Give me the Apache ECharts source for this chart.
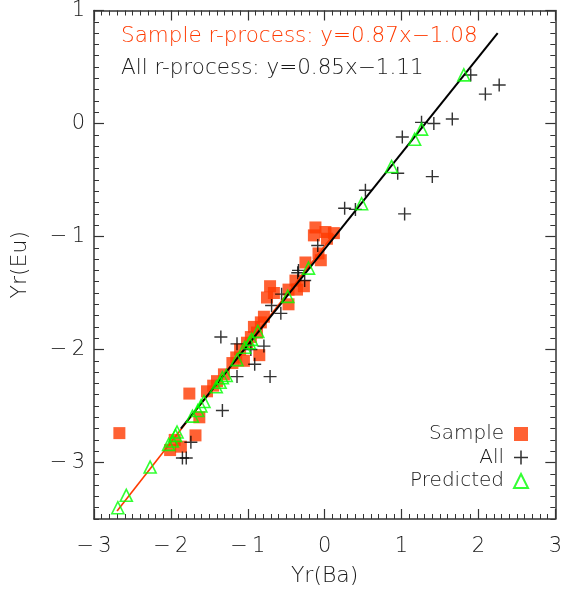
<!DOCTYPE html>
<html><head><meta charset="utf-8">
<script src="https://cdn.jsdelivr.net/npm/echarts@6/dist/echarts.min.js"></script>
<style>html,body{margin:0;padding:0;background:#fff}#c{width:565px;height:592px}</style>
</head><body><div id="c"></div>
<script>
// Sample r-process stars (red squares)
const sampleX = [-2.67,-1.76,-1.53,-1.63,-1.68,-1.87,-2.01,-1.40,-1.31,-1.15,-1.05,-0.85,-1.01,-0.96,-0.92,-0.83,-0.79,-0.75,-0.71,-0.47,-0.36,-0.38,-0.27,-0.25,-0.08,-0.05,-0.12,-0.14,0.01,0.12,0.03,-0.47,-1.10,-1.20,-0.88,-0.66,-1.45,-1.95];
const sampleY = [-2.74,-2.39,-2.37,-2.60,-2.76,-2.86,-2.89,-2.28,-2.22,-2.07,-2.10,-2.05,-1.94,-1.89,-1.80,-1.76,-1.71,-1.54,-1.44,-1.60,-1.47,-1.39,-1.44,-1.23,-1.15,-1.21,-0.92,-0.99,-0.96,-0.97,-1.02,-1.47,-2.00,-2.12,-1.85,-1.50,-2.32,-2.80];
// All r-process stars (plus)
const allX = [1.90,2.27,2.09,1.66,1.42,1.26,1.01,0.95,1.40,0.53,0.26,0.40,1.04,-0.09,-0.35,-0.26,-0.69,-0.56,-0.57,-1.35,-1.14,-0.79,-0.96,-0.91,-0.71,-1.14,-1.33,-1.74,-1.85,-1.80,-0.34];
const allY = [0.43,0.34,0.26,0.04,0.00,0.01,-0.12,-0.44,-0.47,-0.59,-0.75,-0.76,-0.80,-1.08,-1.32,-1.39,-1.61,-1.51,-1.68,-1.89,-1.95,-1.97,-2.00,-2.13,-2.24,-2.24,-2.54,-2.82,-2.96,-2.96,-1.30];
// Predicted (green triangles)
const predX = [1.81,1.26,1.17,0.87,0.48,-0.21,-0.48,-0.87,-0.95,-0.98,-1.04,-1.14,-1.28,-1.33,-1.36,-1.41,-1.57,-1.61,-1.65,-1.72,-1.92,-1.94,-1.98,-2.03,-2.27,-2.58,-2.69];
const predY = [0.43,-0.05,-0.14,-0.38,-0.71,-1.28,-1.53,-1.84,-1.91,-1.94,-1.98,-2.09,-2.23,-2.25,-2.29,-2.33,-2.46,-2.50,-2.54,-2.59,-2.73,-2.76,-2.81,-2.84,-3.04,-3.29,-3.40];
// Fit line endpoints
const sampleFitX = [-2.70, 0.12];
const sampleFitY = [-3.43, -0.98];
const allFitX = [-1.87, 2.25];
const allFitY = [-2.70, 0.80];
const xTicks = [-3,-2,-1,0,1,2,3];
const yTicks = [-3,-2,-1,0,1];

const zip = (a,b) => a.map((v,i)=>[v,b[i]]);
const FONT = 'DejaVu Sans';
const FW = 200;
const RED = '#ff3a00';
const AX = '#333';
const TXT = '#1a1a1a';
const fmt = v => v < 0 ? '\u2212\u2009' + Math.abs(v) : String(v);
const PLUS = 'path://M0,4.45H10V5.55H0Z M4.45,0H5.55V10H4.45Z';

const chart = echarts.init(document.getElementById('c'));
const baseX = {type:'value', min:-3, max:3, interval:1, gridIndex:0,
  axisLine:{show:true, onZero:false, lineStyle:{color:AX, width:1.5}},
  splitLine:{show:false},
  axisTick:{inside:true, length:10, lineStyle:{color:AX, width:1.2}},
  minorTick:{show:true, splitNumber:10, length:5, lineStyle:{color:AX, width:1}},
};
const minorY = pos => ({type:'value', min:-3.5, max:1, interval:0.1, position:pos,
  axisLine:{show:true, onZero:false, lineStyle:{color:AX, width:1.5}},
  splitLine:{show:false}, axisLabel:{show:false},
  axisTick:{inside:true, length:5, lineStyle:{color:AX, width:1}}});
const majorY = (pos, lab) => ({type:'value', min:-3.5, max:1, position:pos,
  axisLine:{show:false, onZero:false}, splitLine:{show:false},
  axisTick:{show:true, inside:true, length:10, customValues:yTicks, lineStyle:{color:AX, width:1.2}},
  axisLabel:{show:lab, customValues:yTicks, formatter:fmt, fontFamily:FONT, fontWeight:FW, fontSize:21, color:TXT, margin:9},
  name: lab ? 'Yr(Eu)' : '', nameLocation:'middle', nameGap:63,
  nameTextStyle:{fontFamily:FONT, fontWeight:FW, fontSize:22, color:TXT}});

chart.setOption({
  animation:false,
  backgroundColor:'#fff',
  grid:{left:94, right:8, top:8, bottom:71, containLabel:false},
  xAxis:[
    Object.assign({}, baseX, {position:'bottom',
      axisLabel:{formatter:fmt, fontFamily:FONT, fontWeight:FW, fontSize:21, color:TXT, margin:17},
      name:'Yr(Ba)', nameLocation:'middle', nameGap:46,
      nameTextStyle:{fontFamily:FONT, fontWeight:FW, fontSize:22, color:TXT}}),
    Object.assign({}, baseX, {position:'top', axisLabel:{show:false}})
  ],
  yAxis:[minorY('left'), majorY('left', true), minorY('right'), majorY('right', false)],
  legend:{
    orient:'vertical', align:'right', right:31, top:419, itemGap:3.5,
    itemWidth:14, itemHeight:14,
    textStyle:{fontFamily:FONT, fontWeight:FW, fontSize:20, color:TXT, padding:[0,5,0,0]},
    data:['Sample','All','Predicted']
  },
  graphic:[
    {type:'text', left:121, top:25, style:{text:'Sample r-process: y=0.87x\u22121.08', fill:RED, font:'200 21.5px "DejaVu Sans"'}},
    {type:'text', left:121, top:57, style:{text:'All r-process: y=0.85x\u22121.11', fill:TXT, font:'200 21.5px "DejaVu Sans"'}}
  ],
  series:[
    {name:'Sample', type:'scatter', symbol:'rect', symbolSize:12, data:zip(sampleX,sampleY),
     itemStyle:{color:RED}, z:2},
    {name:'All', type:'scatter', symbol:PLUS, symbolSize:13, data:zip(allX,allY),
     itemStyle:{color:'#000'}, z:3},
    {name:'sampleFit', type:'line', data:zip(sampleFitX,sampleFitY), symbol:'none',
     lineStyle:{color:RED, width:1.6}, z:4},
    {name:'allFit', type:'line', data:zip(allFitX,allFitY), symbol:'none',
     lineStyle:{color:'#000', width:2}, z:5},
    {name:'Predicted', type:'scatter', symbol:'triangle', symbolSize:12, data:zip(predX,predY),
     itemStyle:{color:'rgba(0,0,0,0)', borderColor:'#00ff00', borderWidth:1.6}, z:6}
  ]
});
</script></body></html>
